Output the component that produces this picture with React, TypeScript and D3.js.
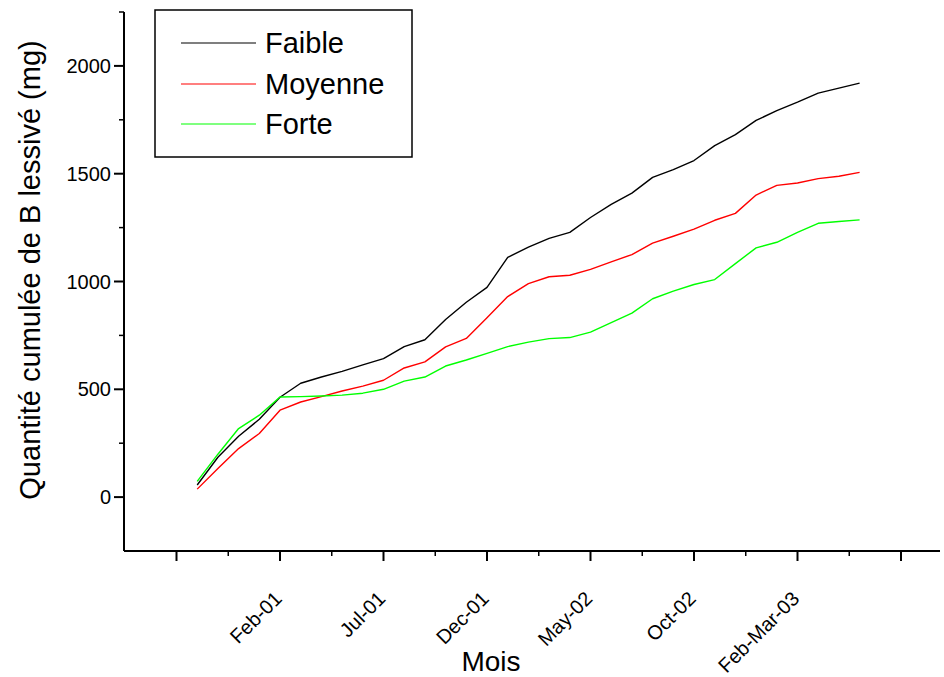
import React, { useEffect, useRef } from 'react'
import * as d3 from 'd3'

// months counted from Feb-01 (Oct-00 .. Jun-03)
const months = [-4, -3, -2, -1, 0, 1, 2, 3, 4, 5, 6, 7, 8, 9, 10, 11, 12, 13, 14, 15, 16, 17, 18, 19, 20, 21, 22, 23, 24, 25, 26, 27, 28]

const faible = [56, 185, 282, 361, 463, 528, 557, 583, 613, 642, 698, 730, 824, 904, 973, 1112, 1159, 1200, 1228, 1297, 1358, 1410, 1483, 1519, 1561, 1630, 1681, 1747, 1793, 1832, 1874, 1897, 1920]
const moyenne = [37, 133, 225, 295, 403, 441, 466, 492, 515, 542, 599, 627, 697, 736, 832, 930, 990, 1022, 1029, 1056, 1091, 1125, 1178, 1210, 1243, 1284, 1316, 1401, 1446, 1457, 1477, 1488, 1506]
const forte = [73, 199, 318, 380, 464, 466, 469, 473, 482, 500, 538, 557, 608, 636, 667, 698, 719, 735, 740, 765, 809, 853, 920, 955, 986, 1009, 1083, 1156, 1182, 1228, 1270, 1278, 1286]

const seriesNames = ['Faible', 'Moyenne', 'Forte']
const seriesColors = ['#000000', '#ff0000', '#00ff00']

const xTickValues = [-5, 0, 5, 10, 15, 20, 25, 30]
const xTickLabels = ['', 'Feb-01', 'Jul-01', 'Dec-01', 'May-02', 'Oct-02', 'Feb-Mar-03', '']
const xMinorTicks = [-2.5, 2.5, 7.5, 12.5, 17.5, 22.5, 27.5]
const yTickValues = [0, 500, 1000, 1500, 2000]
const yMinorTicks = [250, 750, 1250, 1750, 2250]

const FONT = '"Liberation Sans", Arial, sans-serif'

export default function App() {
  const ref = useRef<SVGSVGElement>(null)

  useEffect(() => {
    const svg = d3.select(ref.current)
    svg.selectAll('*').remove()

    const left = 124
    const right = 940
    const top = 12
    const bottom = 551

    const x = d3.scaleLinear().domain([-5, 30]).range([176.5, 901])
    const y = d3.scaleLinear().domain([-250, 2250]).range([bottom, top])

    const data = [faible, moyenne, forte]

    // Legend box (drawn under the lines)
    const legend = svg.append('g')
    legend.append('rect')
      .attr('x', 155).attr('y', 10)
      .attr('width', 257).attr('height', 147)
      .attr('fill', '#fff')
      .attr('stroke', '#000').attr('stroke-width', 1.5)

    const legendY = [43, 84, 124]
    seriesNames.forEach((name, k) => {
      const ly = legendY[k]
      legend.append('line')
        .attr('x1', 181).attr('x2', 256)
        .attr('y1', ly).attr('y2', ly)
        .attr('stroke', seriesColors[k]).attr('stroke-width', 1.2)
      legend.append('text')
        .attr('x', 265).attr('y', ly)
        .attr('dy', '0.35em')
        .attr('font-family', FONT)
        .attr('font-size', '29px')
        .text(name)
    })

    // Lines
    const line = d3.line<number>()
      .x((d, i) => x(months[i]))
      .y(d => y(d))

    data.forEach((values, k) => {
      svg.append('path')
        .datum(values)
        .attr('fill', 'none')
        .attr('stroke', seriesColors[k])
        .attr('stroke-width', 1.4)
        .attr('stroke-linejoin', 'round')
        .attr('d', line)
    })

    // X-axis
    const xAxis = svg.append('g')
      .attr('transform', `translate(0, ${bottom})`)

    xAxis.append('line')
      .attr('x1', left).attr('x2', right)
      .attr('stroke', '#000').attr('stroke-width', 2)

    xAxis.selectAll('.major')
      .data(xTickValues)
      .enter().append('line')
      .attr('x1', d => x(d)).attr('x2', d => x(d))
      .attr('y1', 0).attr('y2', 10)
      .attr('stroke', '#000').attr('stroke-width', 2)

    xAxis.selectAll('.minor')
      .data(xMinorTicks)
      .enter().append('line')
      .attr('x1', d => x(d)).attr('x2', d => x(d))
      .attr('y1', 0).attr('y2', 5)
      .attr('stroke', '#000').attr('stroke-width', 1.5)

    xAxis.selectAll('text')
      .data(xTickValues)
      .enter().append('text')
      .attr('transform', d => `translate(${x(d) + 3}, 49) rotate(-45)`)
      .attr('text-anchor', 'end')
      .attr('font-family', FONT)
      .attr('font-size', '20px')
      .text((d, i) => xTickLabels[i])

    // X Label
    svg.append('text')
      .attr('x', 491)
      .attr('y', 671)
      .attr('text-anchor', 'middle')
      .attr('font-family', FONT)
      .attr('font-size', '28px')
      .text('Mois')

    // Y-axis
    const yAxis = svg.append('g')
      .attr('transform', `translate(${left}, 0)`)

    yAxis.append('line')
      .attr('y1', top).attr('y2', bottom)
      .attr('stroke', '#000').attr('stroke-width', 2)

    yAxis.selectAll('.major')
      .data(yTickValues)
      .enter().append('line')
      .attr('x1', -10).attr('x2', 0)
      .attr('y1', d => y(d)).attr('y2', d => y(d))
      .attr('stroke', '#000').attr('stroke-width', 2)

    yAxis.selectAll('.minor')
      .data(yMinorTicks)
      .enter().append('line')
      .attr('x1', -5).attr('x2', 0)
      .attr('y1', d => y(d)).attr('y2', d => y(d))
      .attr('stroke', '#000').attr('stroke-width', 1.5)

    yAxis.selectAll('text')
      .data(yTickValues)
      .enter().append('text')
      .attr('x', -13)
      .attr('y', d => y(d))
      .attr('dy', '0.35em')
      .attr('text-anchor', 'end')
      .attr('font-family', FONT)
      .attr('font-size', '20px')
      .text(d => String(d))

    // Y Label
    svg.append('text')
      .attr('transform', 'translate(40, 270) rotate(-90)')
      .attr('text-anchor', 'middle')
      .attr('font-family', FONT)
      .attr('font-size', '29px')
      .text('Quantité cumulée de B lessivé (mg)')
  }, [])

  return (
    <svg ref={ref} width={944} height={677}
      style={{ position: 'absolute', left: 0, top: 0, background: '#fff' }} />
  )
}
